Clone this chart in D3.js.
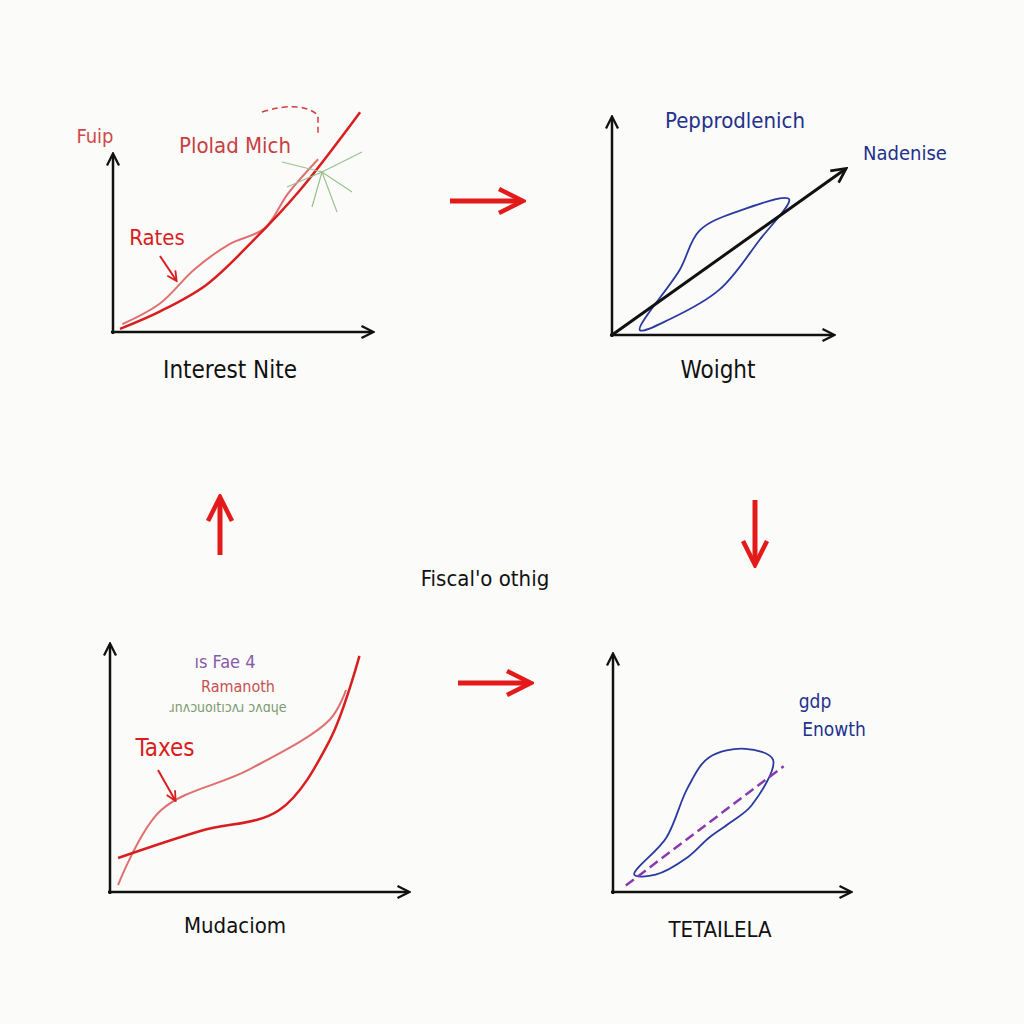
<!DOCTYPE html>
<html><head><meta charset="utf-8">
<script src="https://cdn.jsdelivr.net/npm/d3@7"></script>
<style>body{margin:0;background:#fbfbfa}</style></head>
<body><svg id="c" width="1024" height="1024"></svg>
<script>
// Data (panel domains roughly 0..10, some marks run past the axis ends)
const p1Line = [[0.3,0.2],[2,1.3],[4,3],[6,5.8],[8,9],[10.6,14]];
const p1Curve = [[0.4,0.5],[2,1.8],[3.5,4],[5,5.6],[6.5,6.6],[7.5,8.8],[8.8,11]];
const p2Arrow = [[0,0],[11.7,8.4]];
const p2Loop = [[1.4,0.25],[3.4,3.3],[4.4,5.3],[6.4,6.3],[8.9,6.9],[7.4,4.8],[5.4,2.3],[2.9,0.8]];
const p3Line = [[0.3,1.5],[3.4,2.7],[6.3,3.6],[8.2,6.7],[9.3,10.4]];
const p3Curve = [[0.3,0.3],[1.9,3.6],[5.2,5.4],[8.2,7.6],[8.8,8.9]];
const p4Dash = [[0.6,0.3],[8,5.8]];
const p4Loop = [[1,0.8],[2.5,2.5],[3.5,4.8],[4.5,6.2],[6.2,6.6],[7.5,6.1],[6.5,4],[5.5,3.2],[4.5,2.5],[3.5,1.6],[2,0.8]];
const labels = [
 {t:"Fuip",x:95,y:143,c:"#d04a4a",s:20},{t:"Plolad Mich",x:235,y:153,c:"#c84040",s:22},
 {t:"Rates",x:157,y:245,c:"#d81e1e",s:22},{t:"Interest Nite",x:230,y:378,c:"#111",s:24},
 {t:"Pepprodlenich",x:735,y:128,c:"#23318c",s:22},{t:"Nadenise",x:905,y:160,c:"#23318c",s:20},
 {t:"Woight",x:718,y:378,c:"#111",s:24},{t:"Fiscal'o othig",x:485,y:586,c:"#111",s:22},
 {t:"Taxes",x:165,y:756,c:"#d81e1e",s:24},{t:"Mudaciom",x:235,y:933,c:"#111",s:22},
 {t:"ıs Fae  4",x:225,y:668,c:"#8a5aa8",s:18},{t:"Ramanoth",x:238,y:692,c:"#c65050",s:16},
 {t:"ɹnʌɔuoıtıɔʌɹ ɔʌɑɥe",x:228,y:712,c:"#7c9a70",s:14},
 {t:"gdp",x:815,y:708,c:"#23318c",s:19},{t:"Enowth",x:834,y:736,c:"#23318c",s:19},
 {t:"TETAILELA",x:720,y:937,c:"#111",s:22}
];
const svg=d3.select("#c");
svg.append("defs").append("marker").attr("id","ah").attr("viewBox","0 0 10 10").attr("refX",8).attr("refY",5)
 .attr("markerWidth",6).attr("markerHeight",6).attr("orient","auto-start-reverse")
 .append("path").attr("d","M1,1L9,5L1,9").attr("fill","none").attr("stroke","context-stroke").attr("stroke-width",1.5);
const panels=[{x0:113,x1:372,y0:332,y1:155},{x0:612,x1:833,y0:335,y1:118},{x0:110,x1:408,y0:892,y1:645},{x0:613,x1:850,y0:892,y1:655}];
const sc=panels.map(p=>({x:d3.scaleLinear([0,10],[p.x0,p.x0+(p.x1-p.x0)*0.9]),y:d3.scaleLinear([0,10],[p.y0,p.y1+20])}));
panels.forEach(p=>{
 svg.append("path").attr("d",`M${p.x0},${p.y0+2}L${p.x0},${p.y1}`).attr("stroke","#111").attr("stroke-width",2.5).attr("fill","none").attr("marker-end","url(#ah)");
 svg.append("path").attr("d",`M${p.x0-2},${p.y0}L${p.x1},${p.y0}`).attr("stroke","#111").attr("stroke-width",2.5).attr("fill","none").attr("marker-end","url(#ah)");
});
function draw(i,data,color,w,curve,dash,marker){
 const l=d3.line().x(d=>sc[i].x(d[0])).y(d=>sc[i].y(d[1])).curve(curve||d3.curveBasis);
 const p=svg.append("path").attr("d",l(data)).attr("fill","none").attr("stroke",color).attr("stroke-width",w);
 if(dash)p.attr("stroke-dasharray",dash); if(marker)p.attr("marker-end","url(#ah)");
}
draw(0,p1Curve,"#e07070",2,d3.curveCatmullRom);
draw(0,p1Line,"#d81e1e",2.5,d3.curveCatmullRom);
draw(1,p2Loop,"#2a3aa0",1.8,d3.curveCatmullRomClosed);
draw(1,p2Arrow,"#111",3,d3.curveLinear,null,true);
draw(2,p3Curve,"#e07070",2,d3.curveCatmullRom);
draw(2,p3Line,"#d81e1e",2.5,d3.curveCatmullRom);
draw(3,p4Loop,"#2a3aa0",1.8,d3.curveCatmullRomClosed);
draw(3,p4Dash,"#8a3ab0",2.5,d3.curveLinear,"10,5");
const arrows=[[450,201,520,201],[220,555,220,500],[755,500,755,562],[458,683,528,683]];
arrows.forEach(a=>svg.append("path").attr("d",`M${a[0]},${a[1]}L${a[2]},${a[3]}`).attr("stroke","#e41a1a").attr("stroke-width",5).attr("fill","none").attr("marker-end","url(#ah)"));
svg.append("path").attr("d","M262,112 Q300,100 318,115 L318,135").attr("fill","none").attr("stroke","#d04040").attr("stroke-width",1.5).attr("stroke-dasharray","6,4");
// sparkle near panel 1 top
[[-40,-10],[40,-20],[30,20],[-10,35],[15,40],[-35,15]].forEach(d=>svg.append("line").attr("x1",322).attr("y1",172).attr("x2",322+d[0]).attr("y2",172+d[1]).attr("stroke","#9ac090").attr("stroke-width",1.2));
svg.append("path").attr("d","M160,256 L176,280").attr("stroke","#d81e1e").attr("stroke-width",2).attr("fill","none").attr("marker-end","url(#ah)");
svg.append("path").attr("d","M158,770 L175,800").attr("stroke","#d81e1e").attr("stroke-width",2).attr("fill","none").attr("marker-end","url(#ah)");
labels.forEach(d=>svg.append("text").attr("x",d.x).attr("y",d.y).attr("text-anchor","middle").attr("fill",d.c)
 .attr("font-family","'DejaVu Sans Condensed','Liberation Sans Narrow',sans-serif").attr("font-size",d.s).text(d.t));
</script></body></html>
